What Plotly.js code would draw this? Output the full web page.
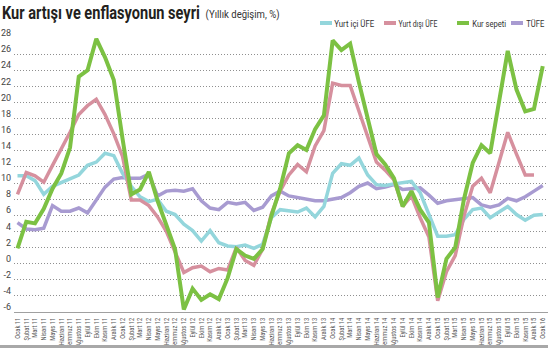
<!DOCTYPE html>
<html><head><meta charset="utf-8">
<script src="https://cdn.plot.ly/plotly-3.0.1.min.js"></script>
<style>html,body{margin:0;padding:0;background:#fff}#chart{width:550px;height:350px}</style>
</head><body><div id="chart"></div>
<script>
// ---- data ----
const months = [
 'Ocak 11','Şubat 11','Mart 11','Nisan 11','Mayıs 11','Haziran 11','Temmuz 11','Ağustos 11','Eylül 11','Ekim 11','Kasım 11','Aralık 11',
 'Ocak 12','Şubat 12','Mart 12','Nisan 12','Mayıs 12','Haziran 12','Temmuz 12','Ağustos 12','Eylül 12','Ekim 12','Kasım 12','Aralık 12',
 'Ocak 13','Şubat 13','Mart 13','Nisan 13','Mayıs 13','Haziran 13','Temmuz 13','Ağustos 13','Eylül 13','Ekim 13','Kasım 13','Aralık 13',
 'Ocak 14','Şubat 14','Mart 14','Nisan 14','Mayıs 14','Haziran 14','Temmuz 14','Ağustos 14','Eylül 14','Ekim 14','Kasım 14','Aralık 14',
 'Ocak 15','Şubat 15','Mart 15','Nisan 15','Mayıs 15','Haziran 15','Temmuz 15','Ağustos 15','Eylül 15','Ekim 15','Kasım 15','Aralık 15',
 'Ocak 16'];

const yurtIciUFE = [10.9,10.9,10.3,8.6,9.6,10.1,10.5,11.0,12.2,12.6,13.7,13.4,
 11.2,9.6,8.3,7.7,8.0,6.5,6.1,4.9,4.1,2.8,4.1,2.6,
 2.2,2.1,2.3,1.9,2.4,5.7,6.7,6.5,6.4,6.9,5.8,7.1,
 11.2,12.4,12.2,13.1,11.0,9.8,9.7,9.9,10.1,10.2,8.8,6.0,
 3.4,3.4,3.6,5.5,6.7,6.9,5.7,6.4,7.1,6.1,5.4,6.0,
 6.1];

const yurtDisiUFE = [8.6,11.3,10.9,10.1,12.2,14.2,16.3,18.5,19.6,20.4,18.5,16.1,
 13.3,7.9,7.9,7.2,5.8,4.0,1.5,-1.1,-0.5,-0.3,-1.0,-0.6,
 -0.8,2.0,0.4,-0.2,1.8,6.2,9.0,11.0,12.3,11.4,14.6,16.5,
 22.4,22.1,22.1,19.0,15.8,12.6,11.6,10.4,7.1,8.4,5.7,3.3,
 -4.6,-1.0,1.0,5.9,9.6,10.6,8.8,12.5,16.3,13.6,11.0,11.0];

const kurSepeti = [1.9,5.2,5.0,6.8,9.3,11.2,14.4,23.2,24.0,27.9,25.6,22.8,
 15.5,8.6,9.2,11.4,7.8,4.7,1.8,-5.7,-3.1,-4.5,-3.8,-4.4,
 -1.8,1.8,1.0,0.6,1.8,5.9,9.3,13.7,14.7,14.1,16.7,18.4,
 27.7,26.5,27.3,22.5,18.0,13.6,12.3,10.6,7.1,9.0,6.7,5.1,
 -4.2,0.6,2.0,8.0,12.5,14.7,13.7,20.0,26.4,21.6,18.9,19.2,
 24.5];

const tufe = [5.1,4.3,4.2,4.4,7.2,6.5,6.5,6.9,6.3,7.9,9.5,10.5,
 10.7,10.6,10.6,11.1,8.4,9.0,9.1,9.0,9.3,7.8,6.9,6.7,
 7.6,7.4,7.6,6.6,7.0,8.4,9.0,8.4,8.2,8.0,7.8,7.8,
 8.0,8.2,8.8,9.6,10.0,9.3,9.5,9.8,9.2,9.3,9.4,8.5,
 7.5,7.8,7.9,8.1,8.2,7.3,7.0,7.3,8.1,7.8,8.3,9.0,
 9.7];

const seriesNames = ['Yurt içi ÜFE','Yurt dışı ÜFE','Kur sepeti','TÜFE'];
const seriesColors = ['#94d6dc','#d6909e','#7cc143','#a89bd1'];
const yTickVals = [-6,-4,-2,0,2,4,6,8,10,12,14,16,18,20,22,24,26,28];
const yTickText = ['-6','-4','-2','0','2','4','6','8','10','12','14','16','18','20','22','24','26','28'];
const titleText = 'Kur artışı ve enflasyonun seyri';
const subtitleText = '(Yıllık değişim, %)';

// ---- layout helpers (pixel -> paper) ----
const L = 14, R = 548, T = 38, B = 312;
const pX = px => (px - L) / (R - L);
const pY = py => (B - py) / (B - T);

const valuesBySeries = [yurtIciUFE, yurtDisiUFE, kurSepeti, tufe];
const lineWidths = [3.5, 3.5, 4, 3.5];
const drawOrder = [3, 0, 1, 2];

const traces = drawOrder.map(k => ({
  type: 'scatter', mode: 'lines', name: seriesNames[k],
  x: months.slice(0, valuesBySeries[k].length), y: valuesBySeries[k],
  line: {color: seriesColors[k], width: lineWidths[k], shape: 'linear'},
  showlegend: false, hoverinfo: 'skip'
}));

const legendPos = [
  {s0: 320, s1: 332, t0: 334, t1: 374},
  {s0: 384, s1: 396, t0: 398, t1: 437},
  {s0: 457, s1: 469, t0: 472, t1: 506},
  {s0: 511, s1: 523, t0: 526, t1: 544}
];
const legendY = 23;

const shapes = seriesNames.map((n, k) => ({
  type: 'line', xref: 'paper', yref: 'paper',
  x0: pX(legendPos[k].s0), x1: pX(legendPos[k].s1), y0: pY(legendY), y1: pY(legendY),
  line: {color: seriesColors[k], width: 4}
}));
shapes.push({type: 'rect', xref: 'paper', yref: 'paper', x0: pX(0), x1: pX(548), y0: pY(348), y1: pY(345),
  fillcolor: '#a8a8a8', line: {width: 0}});

const annotations = seriesNames.map((n, k) => ({
  text: n, showarrow: false, xref: 'paper', yref: 'paper',
  x: pX((legendPos[k].t0 + legendPos[k].t1) / 2), y: pY(legendY),
  xanchor: 'center', yanchor: 'middle',
  font: {family: 'Roboto, sans-serif', size: 9.5, color: '#333'}
}));
const annWidths = legendPos.map(p => p.t1 - p.t0);
// subtitle
annotations.push({
  text: subtitleText, showarrow: false, xref: 'paper', yref: 'paper',
  x: pX(242.5), y: pY(14.5), xanchor: 'center', yanchor: 'middle',
  font: {family: 'Roboto, sans-serif', size: 11.5, color: '#333'}
});
annWidths.push(74);

const layout = {
  width: 550, height: 350,
  margin: {l: L, r: 550 - R, t: T, b: 350 - B, pad: 0},
  paper_bgcolor: '#fff', plot_bgcolor: '#fff',
  title: {
    text: '<b>' + titleText + '</b>',
    x: 2 / 550, xref: 'container', xanchor: 'left',
    y: 1 - 12.5 / 350, yref: 'container', yanchor: 'middle',
    font: {family: 'Roboto, sans-serif', size: 18, color: '#231f20'}
  },
  xaxis: {
    type: 'category', range: [-0.4, 60.6],
    tickmode: 'array', tickvals: months, ticktext: months,
    tickangle: -90, ticks: '', ticklabelstandoff: 2,
    tickfont: {family: 'Roboto, sans-serif', size: 7, color: '#555'},
    showgrid: false, zeroline: false,
    showline: true, linecolor: '#a0a0a0', linewidth: 1
  },
  yaxis: {
    range: [-6, 28], tickmode: 'array', tickvals: yTickVals, ticktext: yTickText,
    ticks: '', ticklabelstandoff: 2, ticklabelshift: -5,
    tickfont: {family: 'Roboto, sans-serif', size: 9, color: '#444'},
    showgrid: true, gridcolor: '#8f8f8f', gridwidth: 1, griddash: '1px,2px',
    zeroline: false, showline: false
  },
  shapes: shapes,
  annotations: annotations
};

Plotly.newPlot('chart', traces, layout, {staticPlot: true, displayModeBar: false}).then(gd => {
  const fit = (el, w) => { el.setAttribute('textLength', w); el.setAttribute('lengthAdjust', 'spacingAndGlyphs'); };
  // horizontally condense the title with a group transform so its box really shrinks
  const title = gd.querySelector('.gtitle');
  if (title) {
    const bb = title.getBBox();
    const s = 198 / bb.width;
    const x0 = bb.x;
    title.setAttribute('transform', 'matrix(' + s + ',0,0,1,' + (x0 * (1 - s)) + ',0)');
  }
  gd.querySelectorAll('.annotation-text').forEach((el, i) => fit(el, annWidths[i]));
  gd.querySelectorAll('.xtick text').forEach(el => fit(el, el.getComputedTextLength() * 0.82));
});
</script>
</body></html>
